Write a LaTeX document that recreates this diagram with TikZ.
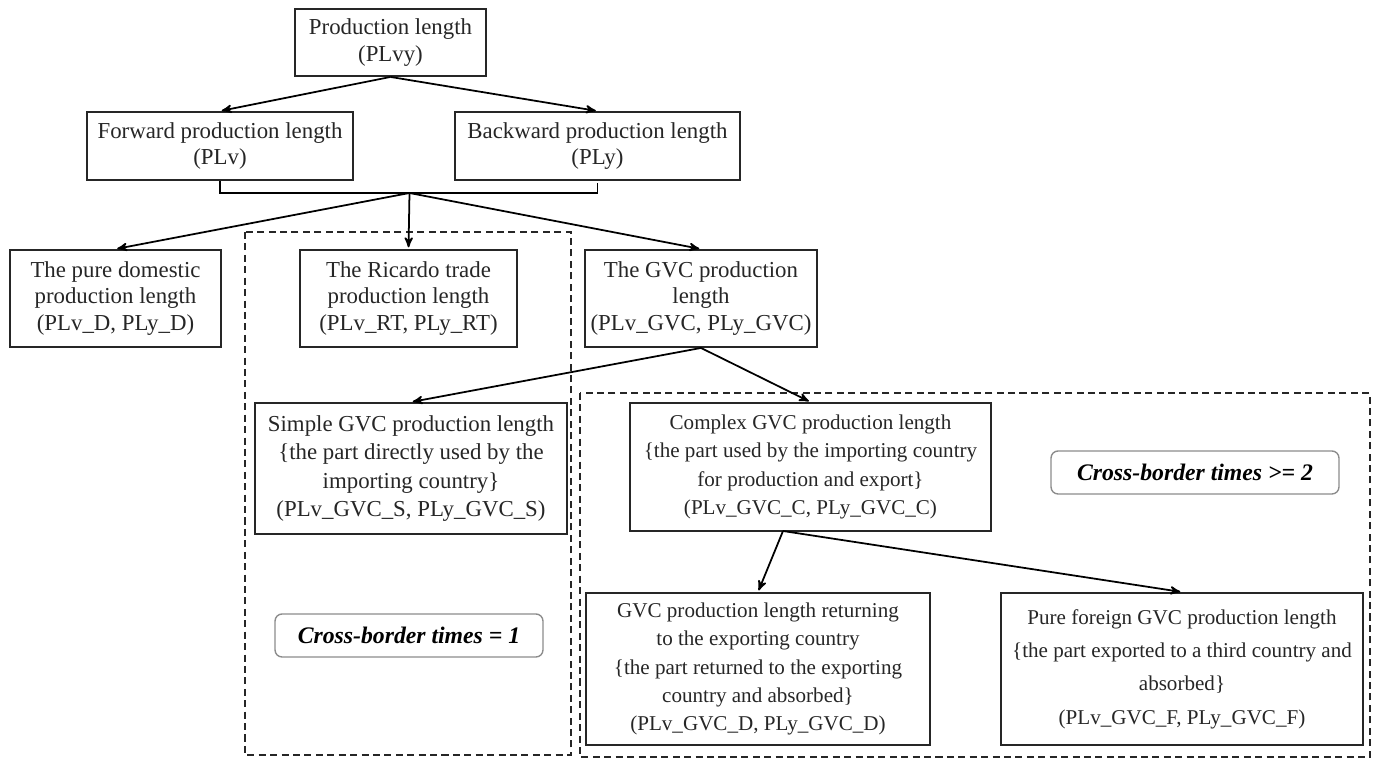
\documentclass[tikz,border=0pt]{standalone}
\usepackage{fontspec}
\setmainfont{Liberation Serif}
\usepackage{tikz}
\usetikzlibrary{arrows}

\begin{document}
\begin{tikzpicture}[x=0.02cm,y=-0.02cm,->,>=stealth',shorten >=1pt,line width=1pt,
    len node/.style={rectangle,draw=black!85,line width=1.1pt,align=center,inner sep=2pt,
      text=black!85,font=\fontsize{13}{15}\selectfont},
    long node/.style={len node,font=\fontsize{13}{16}\selectfont},
    narrow node/.style={len node,font=\fontsize{12}{16}\selectfont},
    times node/.style={rectangle,rounded corners=4pt,draw=black!45,line width=0.8pt,
      minimum height=0.86cm,font=\fontsize{13.5}{15}\selectfont\bfseries\itshape},
    zone/.style={-,draw=black!85,line width=0.9pt,dash pattern=on 4pt off 2.5pt}]

  \useasboundingbox (0,0) rectangle (1374,759);

  \draw[zone] (245,232) rectangle (571,755);
  \draw[zone] (580,393) rectangle (1370,757);

  \node[len node,minimum width=3.82cm,minimum height=1.34cm] (plvy) at (390.5,42.5)
    {Production length\\(PLvy)};
  \node[len node,minimum width=5.32cm,minimum height=1.36cm] (plv) at (220,146)
    {Forward production length\\(PLv)};
  \node[len node,minimum width=5.70cm,minimum height=1.36cm] (ply) at (597.5,146)
    {Backward production length\\(PLy)};

  \node[len node,minimum width=4.22cm,minimum height=1.94cm] (dom) at (115.5,298.5)
    {The pure domestic\\production length\\(PLv\_D, PLy\_D)};
  \node[len node,minimum width=4.34cm,minimum height=1.94cm] (rt) at (408.5,298.5)
    {The Ricardo trade\\production length\\(PLv\_RT, PLy\_RT)};
  \node[len node,minimum width=4.64cm,minimum height=1.94cm] (gvc) at (701,298.5)
    {The GVC production\\length\\(PLv\_GVC, PLy\_GVC)};

  \node[long node,minimum width=6.24cm,minimum height=2.62cm] (simple) at (411,468.5)
    {Simple GVC production length\\\{the part directly used by the\\importing country\}\\(PLv\_GVC\_S, PLy\_GVC\_S)};
  \node[narrow node,minimum width=7.22cm,minimum height=2.56cm] (complex) at (810.5,467)
    {Complex GVC production length\\\{the part used by the importing country\\for production and export\}\\(PLv\_GVC\_C, PLy\_GVC\_C)};

  \node[narrow node,minimum width=6.88cm,minimum height=3.04cm] (ret) at (758,669)
    {GVC production length returning\\to the exporting country\\\{the part returned to the exporting\\country and absorbed\}\\(PLv\_GVC\_D, PLy\_GVC\_D)};
  \node[narrow node,minimum width=7.24cm,minimum height=3.04cm,font=\fontsize{12}{19}\selectfont] (foreign) at (1182,669)
    {Pure foreign GVC production length\\\{the part exported to a third country and\\absorbed\}\\(PLv\_GVC\_F, PLy\_GVC\_F)};

  \node[times node,minimum width=5.36cm] (once) at (409,635.5) {Cross-border times = 1};
  \node[times node,minimum width=5.76cm] (twice) at (1195,472.5) {Cross-border times >= 2};

  \coordinate (join) at (409.5,193);
  \coordinate (fork) at (783,531);

  \path (plvy.south) edge (plv.north) edge (ply.north);
  \draw[-] (plv.south) |- (join) -| (ply.south);
  \path (join) edge (dom.north) edge (rt.north) edge (gvc.north);
  \path (gvc.south) edge (simple.north) edge (complex.north);
  \path (fork) edge (ret.north) edge (foreign.north);
\end{tikzpicture}
\end{document}
